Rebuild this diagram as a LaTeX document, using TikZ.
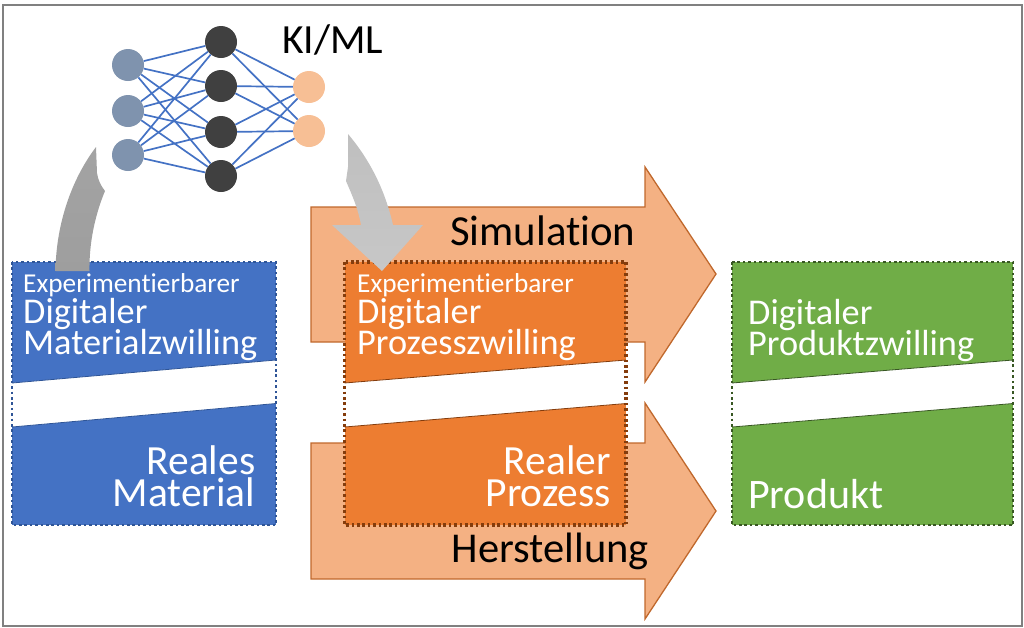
\documentclass[tikz,border=0pt]{standalone}
\usepackage{fontspec}
\setmainfont[Ligatures=NoCommon]{Carlito}
\definecolor{blueFill}{HTML}{4472C4}
\definecolor{blueEdge}{HTML}{2F5597}
\definecolor{slateNode}{HTML}{7F93AE}
\definecolor{orangeFill}{HTML}{ED7D31}
\definecolor{orangeEdge}{HTML}{843C0C}
\definecolor{orangeLight}{HTML}{F4B183}
\definecolor{orangeLine}{HTML}{C0682C}
\definecolor{peachNode}{HTML}{F7BF95}
\definecolor{greenFill}{HTML}{70AD47}
\definecolor{greenEdge}{HTML}{385723}
\lineskiplimit=-20pt
\lineskip=0pt
\newcommand{\expfont}{\fontsize{27.3}{31}\selectfont}
\tikzset{
  netnode/.style={circle,fill=#1,minimum size=32pt,inner sep=0pt},
  twintext/.style={anchor=north west,align=left,text=white,inner sep=0pt,
    font=\fontsize{36.3}{31}\selectfont},
  realeast/.style={anchor=north east,align=right,text=white,inner sep=0pt,
    font=\fontsize{41.5}{32}\selectfont},
  realwest/.style={anchor=base west,text=white,font=\fontsize{42}{46}\selectfont,inner sep=0pt},
  blacktext/.style={anchor=base west,text=black,font=\fontsize{#1}{46}\selectfont,inner sep=0pt},
  bigarrow/.style={fill=orangeLight,draw=orangeLine,line width=1.3pt,line join=miter},
}
\newcommand{\twinbox}[5]{% left, right, fill, border, dot width
  \fill[#3] (#1,262) rectangle (#2,525);
  \fill[white] (#1,383) -- (#2,360) -- (#2,403.5) -- (#1,427) -- cycle;
  \draw[#4,line width=0.8pt] (#1,383) -- (#2,360) (#1,427) -- (#2,403.5);
  \draw[#4,line width=#5,dash pattern=on 2.6pt off 2.8pt] (#1,262) rectangle (#2,525);
}
\begin{document}
\begin{tikzpicture}[x=1pt,y=-1pt]
  \useasboundingbox (0,0) rectangle (1024,627);
  % Outer frame
  \draw[color=black!50,line width=1.6pt] (3,5) rectangle (1022,626);

  % Process arrows
  \draw[bigarrow] (311,207) -- (645,207) -- (645,167) -- (716,274) -- (645,382) -- (645,342) -- (311,342) -- cycle;
  \draw[bigarrow] (311,443) -- (645,443) -- (645,403) -- (716,511) -- (645,619) -- (645,579) -- (311,579) -- cycle;

  % Twin boxes
  \twinbox{12}{276}{blueFill}{blueEdge}{2.6pt}
  \twinbox{344.5}{626}{orangeFill}{orangeEdge}{3.2pt}
  \twinbox{732}{1013}{greenFill}{greenEdge}{2.9pt}

  % Network nodes
  \foreach \name/\ypos in {a/65,b/111,c/155}
    \node[netnode=slateNode] (in\name) at (128,\ypos) {};
  \foreach \name/\ypos in {a/42,b/86,c/132,d/176}
    \node[netnode=black!75] (hid\name) at (221,\ypos) {};
  \foreach \name/\ypos in {a/87,b/131}
    \node[netnode=peachNode] (out\name) at (309,\ypos) {};

  % Network connections
  \foreach \i in {a,b,c}
    \foreach \h in {a,b,c,d}
      \draw[blueFill,line width=1.7pt] (in\i) -- (hid\h);
  \foreach \h in {a,b,c,d}
    \foreach \o in {a,b}
      \draw[blueFill,line width=1.7pt] (hid\h) -- (out\o);

  % Curved grey arrows
  \shade[top color=black!36,bottom color=black!38] (96,147) -- (97,173) .. controls (98,180) and (101,186) .. (105,191)
    .. controls (95,215) and (89,243) .. (89.5,271) -- (55.5,271) .. controls (56,225) and (71,180) .. (96,147) -- cycle;
  \shade[top color=black!25,bottom color=black!22] (348,134) .. controls (370,160) and (385,190) .. (393,225) -- (423,225) -- (382,271)
    -- (332,225) -- (361,225) .. controls (358,208) and (352,195) .. (346,181) -- (348,167) -- cycle;

  % Labels
  \node[blacktext=41.5] (kiml) at (282,53) {KI/ML};
  \node[blacktext=42.8] (simulation) at (450,245) {Simulation};
  \node[blacktext=42.5] (herstellung) at (451.5,562) {Herstellung};

  \node[twintext] (twinA) at (23,273) {\expfont Experimentierbarer\\Digitaler\\Materialzwilling};
  \node[realeast] (realA) at (255.5,445) {Reales\\Material};

  \node[twintext] (twinB) at (357,273) {\expfont Experimentierbarer\\Digitaler\\Prozesszwilling};
  \node[realeast] (realB) at (611,445) {Realer\\Prozess};

  \node[twintext] (twinC) at (748,299.5) {Digitaler\\Produktzwilling};
  \node[realwest] (realC) at (748,508) {Produkt};
\end{tikzpicture}
\end{document}
